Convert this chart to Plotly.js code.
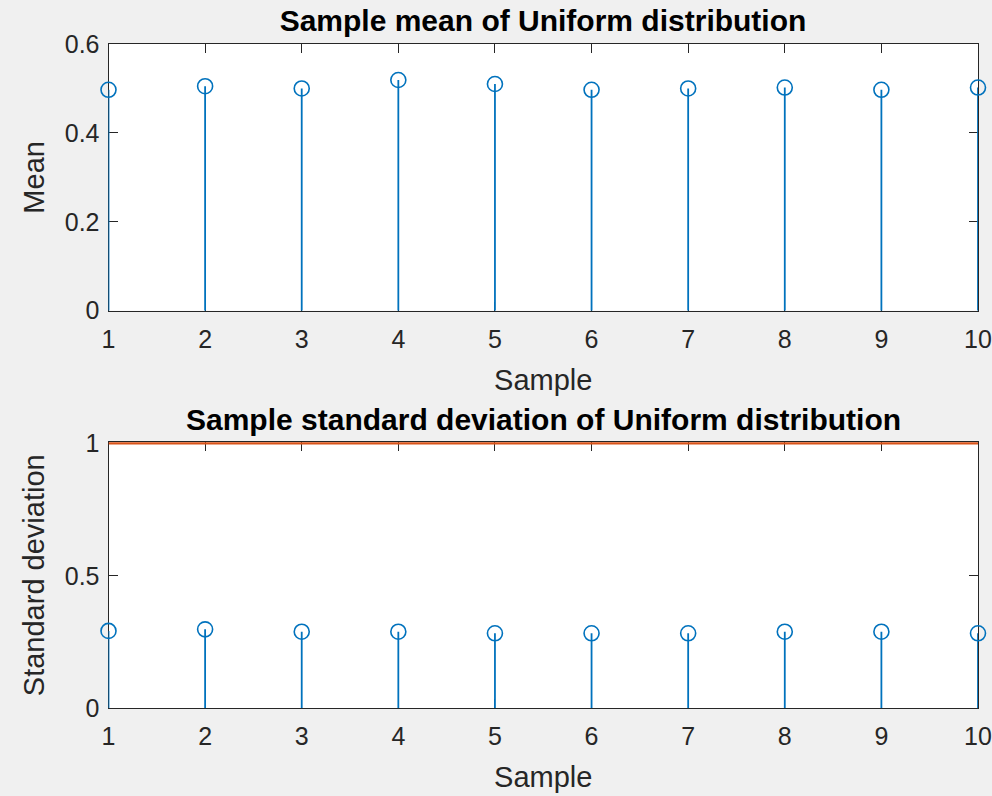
<!DOCTYPE html>
<html>
<head>
<meta charset="utf-8">
<script src="https://cdn.plot.ly/plotly-3.0.1.min.js"></script>
<style>
  html, body { margin: 0; padding: 0; background: #F0F0F0; }
  #chart { width: 992px; height: 796px; }
</style>
</head>
<body>
<div id="chart"></div>
<script>
// Sample index for each of the ten draws
const samples = [1, 2, 3, 4, 5, 6, 7, 8, 9, 10];
// Sample mean of each Uniform(0,1) draw
const meanVals = [0.497, 0.505, 0.500, 0.519, 0.510, 0.497, 0.500, 0.502, 0.497, 0.502];
// Sample standard deviation of each draw
const stdVals = [0.292, 0.298, 0.289, 0.289, 0.283, 0.283, 0.283, 0.289, 0.289, 0.283];
// Horizontal reference line drawn on the standard deviation panel
const refX = [1, 10];
const refY = [1, 1];

const meanTicks = [0, 0.2, 0.4, 0.6];
const stdTicks = [0, 0.5, 1];

const BLUE = '#0072BD';
const ORANGE = '#D95319';
const AXC = '#262626';
const FONT = 'Liberation Sans, Arial, Helvetica, sans-serif';

function stemTrace(xs, ys, xa, ya) {
  return {
    type: 'scatter',
    mode: 'markers',
    x: xs,
    y: ys,
    xaxis: xa,
    yaxis: ya,
    cliponaxis: false,
    marker: { symbol: 'circle-open', size: 15, color: BLUE, line: { width: 1.6, color: BLUE } },
    error_y: {
      type: 'data',
      symmetric: false,
      array: ys.map(() => 0),
      arrayminus: ys,
      width: 0,
      thickness: 1.8,
      color: BLUE
    },
    hoverinfo: 'x+y',
    showlegend: false
  };
}

const traces = [
  stemTrace(samples, meanVals, 'x', 'y'),
  stemTrace(samples, stdVals, 'x2', 'y2'),
  {
    type: 'scatter',
    mode: 'lines',
    x: refX,
    y: refY,
    xaxis: 'x2',
    yaxis: 'y2',
    cliponaxis: false,
    line: { color: ORANGE, width: 2.5 },
    hoverinfo: 'skip',
    showlegend: false
  }
];

function xAxis(domain, anchor) {
  return {
    domain: domain,
    anchor: anchor,
    range: [1, 10],
    tickmode: 'array',
    tickvals: samples,
    ticktext: samples.map(String),
    ticks: 'inside',
    ticklen: 9,
    tickwidth: 1,
    tickcolor: AXC,
    ticklabelstandoff: 6,
    showline: true,
    linecolor: AXC,
    linewidth: 1,
    mirror: 'ticks',
    showgrid: false,
    zeroline: false,
    layer: 'below traces',
    tickfont: { family: FONT, size: 25, color: AXC },
    title: { text: 'Sample', font: { family: FONT, size: 29, color: AXC }, standoff: 17 }
  };
}

function yAxis(domain, anchor, range, ticks, label) {
  return {
    domain: domain,
    anchor: anchor,
    range: range,
    tickmode: 'array',
    tickvals: ticks,
    ticktext: ticks.map(String),
    ticks: 'inside',
    ticklen: 9,
    tickwidth: 1,
    tickcolor: AXC,
    ticklabelstandoff: 3,
    showline: true,
    linecolor: AXC,
    linewidth: 1,
    mirror: 'ticks',
    showgrid: false,
    zeroline: false,
    layer: 'below traces',
    tickfont: { family: FONT, size: 25, color: AXC },
    title: { text: label, font: { family: FONT, size: 29, color: AXC }, standoff: 11 }
  };
}

const xDom = [108.5 / 992, 978 / 992];
// pixel rows of the lower panel: value 0 at 708.3, value 1 at 443.3;
// the range tops out a hair above 1 so the reference line is not clipped
const stdTop = 1.004;
const stdPx = 708.3 - stdTop * (708.3 - 443.3);

const layout = {
  width: 992,
  height: 796,
  margin: { l: 0, r: 0, t: 0, b: 0 },
  paper_bgcolor: '#F0F0F0',
  plot_bgcolor: '#FFFFFF',
  showlegend: false,
  title: {
    text: '<b>Sample mean of Uniform distribution</b>',
    font: { family: FONT, size: 30, color: '#000000' },
    x: 543 / 992,
    xref: 'paper',
    xanchor: 'center',
    y: 1 - 20 / 796,
    yref: 'container',
    yanchor: 'middle'
  },
  xaxis: xAxis(xDom, 'y'),
  yaxis: yAxis([(796 - 310.7) / 796, (796 - 44) / 796], 'x', [0, 0.6], meanTicks, 'Mean'),
  xaxis2: xAxis(xDom, 'y2'),
  yaxis2: yAxis([(796 - 708.3) / 796, (796 - stdPx) / 796], 'x2', [0, stdTop], stdTicks, 'Standard deviation'),
  annotations: [
    {
      text: '<b>Sample standard deviation of Uniform distribution</b>',
      xref: 'paper',
      yref: 'paper',
      x: 543 / 992,
      y: (796 - 419) / 796,
      xanchor: 'center',
      yanchor: 'middle',
      showarrow: false,
      font: { family: FONT, size: 30, color: '#000000' }
    }
  ]
};

Plotly.newPlot('chart', traces, layout, { staticPlot: true, displayModeBar: false });
</script>
</body>
</html>
